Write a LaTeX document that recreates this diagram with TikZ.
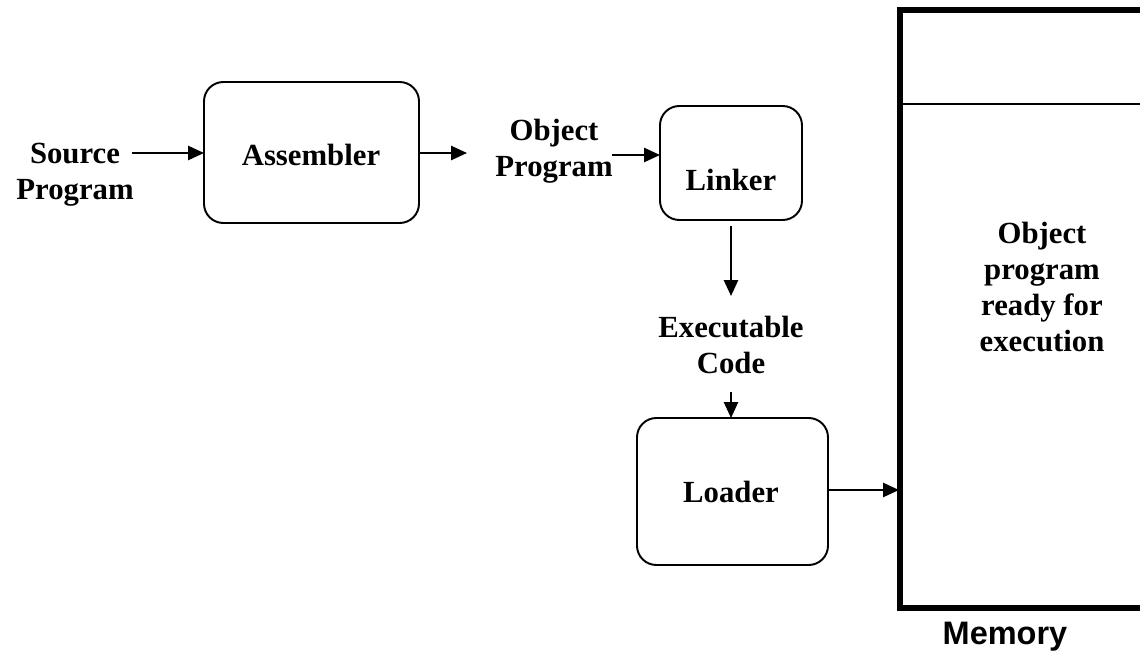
\documentclass[tikz,border=0pt]{standalone}
\usepackage{fontspec}
\setmainfont{Liberation Serif}
\newfontfamily\memfont{Liberation Sans}
\usetikzlibrary{arrows.meta}
\begin{document}
\begin{tikzpicture}[x=0.02cm,y=-0.02cm,
  proc/.style={draw,line width=1.1pt,rounded corners=11pt,inner sep=0pt},
  lbl/.style={font=\fontsize{17.5}{20.5}\selectfont\bfseries,align=center,inner sep=1pt},
  flow/.style={line width=1.1pt,-{Triangle[length=9pt,width=8pt]}}]
  \useasboundingbox (0,0) rectangle (1140,655);
  \clip (0,0) rectangle (1140,655);

  % processing stages
  \draw[proc] (204,82) rectangle (419,223);
  \node[lbl] (asm) at (311,155) {Assembler};
  \coordinate (asmW) at (204,153);
  \coordinate (asmE) at (419,153);

  \draw[proc] (660,106) rectangle (802,220);
  \node[lbl] (lnk) at (731,180) {Linker};
  \coordinate (lnkW) at (660,155);
  \coordinate (lnkS) at (731,226);

  \draw[proc] (637,418) rectangle (828,565);
  \node[lbl] (ldr) at (731,492) {Loader};
  \coordinate (ldrN) at (731,418);
  \coordinate (ldrE) at (828,490);

  % memory block
  \draw[line width=3.4pt] (1160,10) -- (900,10) -- (900,608) -- (1160,608);
  \draw[line width=1.1pt] (900,104) -- (1160,104);
  \coordinate (memW) at (899,490);
  \node[lbl] (mem) at (1042,287) {Object\\program\\ready for\\execution};
  \node[font=\memfont\fontsize{18.5}{22}\selectfont\bfseries] (memlbl) at (1005,637) {Memory};

  % data between stages
  \node[lbl] (src) at (75,175) {Source\\Program};
  \node[lbl] (obj) at (554,151) {Object\\Program};
  \node[lbl] (exe) at (731,345) {Executable\\Code};

  \coordinate (srcE) at (132,153);
  \coordinate (objW) at (467,153);
  \coordinate (objE) at (612,155);
  \coordinate (exeN) at (731,296);
  \coordinate (exeS) at (731,392);

  \draw[flow] (srcE) -- (asmW);
  \draw[flow] (asmE) -- (objW);
  \draw[flow] (objE) -- (lnkW);
  \draw[flow] (lnkS) -- (exeN);
  \draw[flow] (exeS) -- (ldrN);
  \draw[flow] (ldrE) -- (memW);
\end{tikzpicture}
\end{document}
